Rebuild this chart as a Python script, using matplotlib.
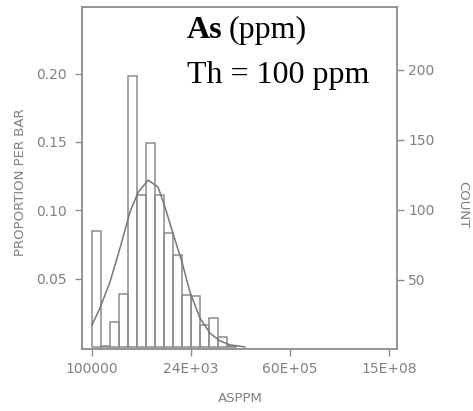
import matplotlib
matplotlib.use('Agg')
import matplotlib.pyplot as plt
import numpy as np

# histogram of As (proportion per bar), bins of 1/11 of a tick interval
bin_width = 1 / 11
proportion = [0.085, 0.001, 0.018, 0.039, 0.198, 0.111, 0.149, 0.111,
              0.083, 0.067, 0.038, 0.037, 0.016, 0.021, 0.007, 0.001]

# fitted curve (x in tick units, y in proportion)
curve_x = [0.0, 0.081, 0.182, 0.283, 0.384, 0.465, 0.566, 0.667, 0.747,
           0.818, 0.909, 0.990, 1.091, 1.192, 1.293, 1.394, 1.545]
curve_y = [0.0161, 0.0285, 0.0476, 0.0724, 0.0988, 0.113, 0.122, 0.117,
           0.100, 0.083, 0.062, 0.040, 0.021, 0.010, 0.0044, 0.0015, 0.0]

left_ticks = [0.05, 0.10, 0.15, 0.20]
left_labels = ['0.05', '0.10', '0.15', '0.20']
count_ticks = [50, 100, 150, 200]
x_ticks = [0, 1, 2, 3]
x_labels = ['100000', '24E+03', '60E+05', '15E+08']

grey = '#8c8c8c'
text_grey = '#808080'
serif = 'Liberation Serif'

fig = plt.figure(figsize=(4.73, 4.11), dpi=100)
ax = fig.add_axes([82 / 473, 62 / 411, 315 / 473, 342 / 411])

lefts = np.arange(len(proportion)) * bin_width
ax.bar(lefts, proportion, width=bin_width, align='edge',
       facecolor='none', edgecolor=grey, linewidth=1.1)
ax.plot(curve_x, curve_y, color='#777777', linewidth=1.1)

ax.set_xlim(-0.101, 3.08)
ax.set_ylim(-0.0015, 0.2487)
ax.set_xticks(x_ticks)
ax.set_xticklabels(x_labels)
ax.set_yticks(left_ticks)
ax.set_yticklabels(left_labels)

for s in ax.spines.values():
    s.set_color(grey)
    s.set_linewidth(1.3)

ax.tick_params(axis='y', direction='out', length=5, width=1, color=grey,
               labelcolor=text_grey, labelsize=10, pad=6)
ax.tick_params(axis='x', direction='out', length=5, width=1, color=grey,
               labelcolor=text_grey, labelsize=10, pad=4)

ax2 = ax.twinx()
ax2.set_ylim(0.7, 245)
ax2.set_yticks(count_ticks)
ax2.tick_params(axis='y', direction='out', length=5, width=1, color=grey,
                labelcolor=text_grey, labelsize=10, pad=3)
for s in ax2.spines.values():
    s.set_visible(False)

fig.text(20 / 473, 1 - 182 / 411, 'PROPORTION PER BAR', rotation=90,
         ha='center', va='center', color=text_grey, fontsize=9.5)
fig.text(463 / 473, 1 - 205 / 411, 'COUNT', rotation=270,
         ha='center', va='center', color=text_grey, fontsize=9.5)
fig.text(240 / 473, 1 - 398 / 411, 'ASPPM', ha='center', va='center',
         color=text_grey, fontsize=9.5)

# title block: bold "As" followed by regular "(ppm)"
t1 = fig.text(187 / 473, 1 - 30 / 411, 'As', ha='left', va='center',
              fontsize=23, fontfamily=serif, fontweight='bold')
fig.canvas.draw()
bb = t1.get_window_extent()
fig.text(bb.x1 / 473 + 0.012, 1 - 30 / 411, '(ppm)', ha='left', va='center',
         fontsize=23, fontfamily=serif)
fig.text(187 / 473, 1 - 76 / 411, 'Th = 100 ppm', ha='left', va='center',
         fontsize=23, fontfamily=serif)

fig.savefig('out.png', dpi=100)
